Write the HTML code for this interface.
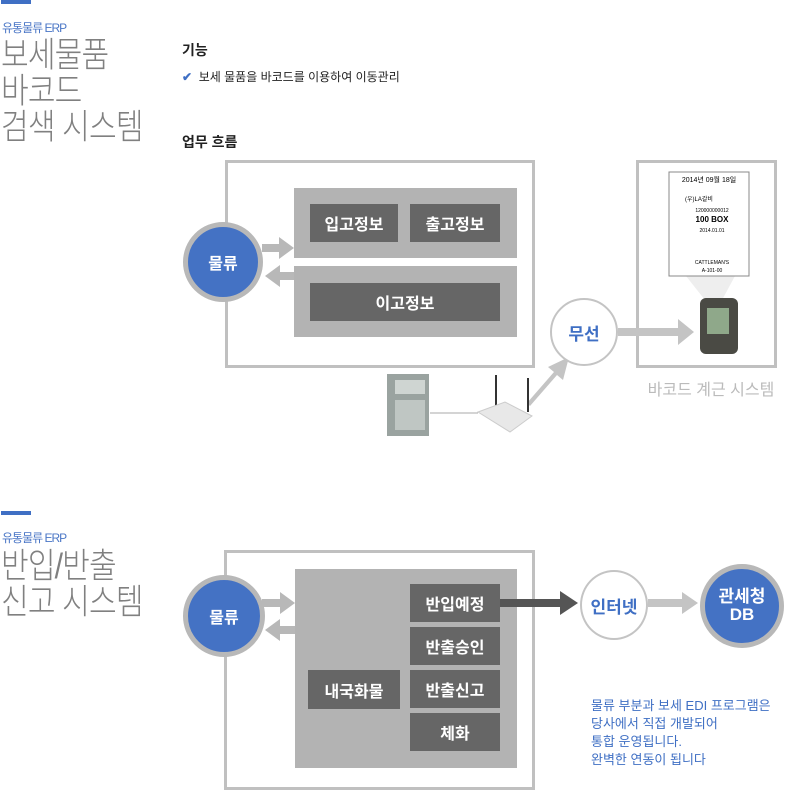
<!DOCTYPE html>
<html><head><meta charset="utf-8"><style>
body{margin:0;width:785px;height:790px;background:#fff;position:relative;overflow:hidden;font-family:"Liberation Sans","Noto Sans CJK KR",sans-serif}
.a{position:absolute}
.bar{position:absolute;left:1px;width:30px;height:4px;background:#3f6fc4}
.sub{position:absolute;left:2px;font-size:12px;color:#4a76c6;letter-spacing:-1px}
.title{position:absolute;left:1px;font-size:35px;line-height:36px;color:#808080;font-weight:300;letter-spacing:-1px;transform:scaleX(0.86);transform-origin:0 0;white-space:nowrap}
.box{position:absolute;border:3px solid #c0c0c0;box-sizing:border-box}
.g{position:absolute;background:#b3b3b3}
.d{position:absolute;background:#666;color:#fff;font-size:16px;font-weight:bold;display:flex;align-items:center;justify-content:center}
.c{position:absolute;border-radius:50%;display:flex;align-items:center;justify-content:center;text-align:center;box-sizing:border-box}
.blue{background:#4472c4;border:5px solid #b8b8b8;color:#fff;font-weight:bold;font-size:16px}
.wh{background:#fff;border:2px solid #c4c4c4;color:#3f6fc4;font-size:17px;font-weight:bold}
svg{position:absolute;left:0;top:0}
</style></head><body>
<div class="bar" style="top:0"></div>
<div class="sub" style="top:19px">유통물류 ERP</div>
<div class="title" style="top:38px">보세물품<br>바코드<br>검색 시스템</div>
<div class="a" style="left:182px;top:40px;font-size:14px;font-weight:bold;color:#222">기능</div>
<div class="a" style="left:182px;top:68px;font-size:12px;color:#222"><span style="color:#3f6fc4;font-weight:bold">✔</span>&nbsp; 보세 물품을 바코드를 이용하여 이동관리</div>
<div class="a" style="left:182px;top:132px;font-size:14px;font-weight:bold;color:#222">업무 흐름</div>

<div class="box" style="left:225px;top:160px;width:310px;height:208px"></div>
<div class="g" style="left:294px;top:188px;width:223px;height:70px"></div>
<div class="d" style="left:310px;top:204px;width:88px;height:38px">입고정보</div>
<div class="d" style="left:410px;top:204px;width:90px;height:38px">출고정보</div>
<div class="g" style="left:294px;top:266px;width:223px;height:71px"></div>
<div class="d" style="left:310px;top:283px;width:190px;height:38px">이고정보</div>
<div class="box" style="left:636px;top:160px;width:141px;height:208px;background:transparent"></div>
<div class="a" style="left:641px;top:376px;width:140px;text-align:center;font-size:16px;color:#bbb">바코드 계근 시스템</div>

<div class="bar" style="top:511px"></div>
<div class="sub" style="top:529px">유통물류 ERP</div>
<div class="title" style="top:549px">반입/반출<br>신고 시스템</div>

<div class="box" style="left:224px;top:550px;width:311px;height:240px"></div>
<div class="g" style="left:295px;top:569px;width:222px;height:199px"></div>
<div class="d" style="left:410px;top:584px;width:90px;height:38px">반입예정</div>
<div class="d" style="left:410px;top:627px;width:90px;height:38px">반출승인</div>
<div class="d" style="left:410px;top:670px;width:90px;height:38px">반출신고</div>
<div class="d" style="left:410px;top:713px;width:90px;height:38px">체화</div>
<div class="d" style="left:308px;top:670px;width:92px;height:39px">내국화물</div>

<svg width="785" height="790">
<path d="M262,244 H279 V237 L294,248 L279,259 V252 H262 Z" fill="#b8b8b8"/>
<path d="M294,272 H280 V265 L265,276 L280,287 V280 H294 Z" fill="#b8b8b8"/>
<path d="M262,599 H280 V592 L295,603 L280,614 V607 H262 Z" fill="#b8b8b8"/>
<path d="M295,626 H280 V619 L265,630 L280,641 V634 H295 Z" fill="#b8b8b8"/>
<path d="M500,599 H560 V591 L578,603 L560,615 V607 H500 Z" fill="#555"/>
<path d="M648,599 H682 V592 L698,603 L682,614 V607 H648 Z" fill="#c4c4c4"/>
<path d="M618,328 H678 V319 L694,332 L678,345 V336 H618 Z" fill="#c4c4c4"/>
<path d="M527,403 L554,372 L548,367 L569,357 L563,380 L557,375 L530,406 Z" fill="#c4c4c4"/>
<line x1="430" y1="413" x2="478" y2="413" stroke="#aaa" stroke-width="1"/>
<rect x="387" y="374" width="42" height="62" fill="#9aa3a0"/><rect x="395" y="380" width="30" height="14" fill="#cfd5d2"/><rect x="395" y="400" width="30" height="30" fill="#bfc6c3"/>
<line x1="496" y1="375" x2="496" y2="408" stroke="#333" stroke-width="2"/><line x1="528" y1="378" x2="528" y2="412" stroke="#333" stroke-width="2"/>
<path d="M478,412 L505,402 L532,416 L510,432 Z" fill="#e8e8e8" stroke="#ccc"/>
<polygon points="686,276 735,276 722,300 705,300" fill="#eee"/>
<rect x="669" y="172" width="80" height="104" fill="#fff" stroke="#888"/>
<text x="709" y="182" font-size="7" text-anchor="middle" font-family="Liberation Sans,Noto Sans CJK KR,sans-serif">2014년 09월 18일</text>
<text x="685" y="201" font-size="6" font-family="Liberation Sans,Noto Sans CJK KR,sans-serif">(우)LA갈비</text>
<text x="712" y="212" font-size="5" text-anchor="middle" font-family="Liberation Sans">120000000012</text>
<text x="712" y="222" font-size="8" font-weight="bold" text-anchor="middle" font-family="Liberation Sans">100 BOX</text>
<text x="712" y="232" font-size="5" text-anchor="middle" font-family="Liberation Sans">2014.01.01</text>
<text x="712" y="264" font-size="5" text-anchor="middle" font-family="Liberation Sans">CATTLEMAN'S</text>
<text x="712" y="272" font-size="5" text-anchor="middle" font-family="Liberation Sans">A-101-00</text>
<rect x="700" y="298" width="38" height="56" rx="6" fill="#4a4a44"/><rect x="707" y="308" width="22" height="26" fill="#8fa88a"/>
</svg>

<div class="c blue" style="left:183px;top:222px;width:80px;height:80px">물류</div>
<div class="c wh" style="left:550px;top:298px;width:68px;height:68px">무선</div>
<div class="c blue" style="left:183px;top:575px;width:82px;height:82px">물류</div>
<div class="c wh" style="left:580px;top:570px;width:68px;height:70px">인터넷</div>
<div class="c blue" style="left:700px;top:564px;width:84px;height:84px;line-height:18px;font-size:17px">관세청<br>DB</div>
<div class="a" style="left:591px;top:697px;font-size:13px;line-height:18px;color:#3f6fc4">물류 부분과 보세 EDI 프로그램은<br>당사에서 직접 개발되어<br>통합 운영됩니다.<br>완벽한 연동이 됩니다</div>
</body></html>
